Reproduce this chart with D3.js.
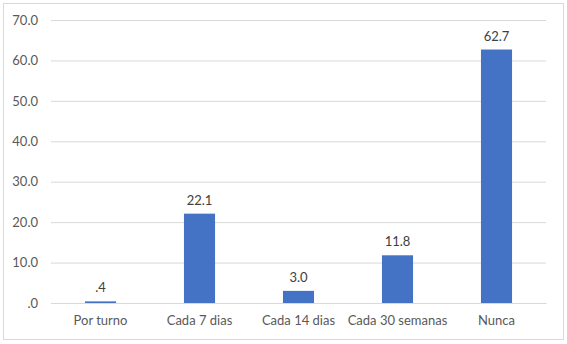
<!DOCTYPE html>
<html><head><meta charset="utf-8">
<script src="https://cdn.jsdelivr.net/npm/d3@7"></script>
<style>body{margin:0;background:#fff;} svg{display:block;}</style>
</head><body>
<svg id="c" width="567" height="344"></svg>
<script>
const categories = ["Por turno", "Cada 7 dias", "Cada 14 dias", "Cada 30 semanas", "Nunca"];
const values = [0.4, 22.1, 3.0, 11.8, 62.7];
const yTicks = [0, 10, 20, 30, 40, 50, 60, 70];

const svg = d3.select("#c");
const font = "Lato, 'Open Sans', sans-serif";
svg.append("rect").attr("x", 3.5).attr("y", 3.5).attr("width", 560).attr("height", 336)
  .attr("fill", "#fff").attr("stroke", "#d9d9d9");

const x = d3.scaleBand().domain(categories).range([51, 546]).paddingInner(0.686).paddingOuter(0.343);
const y = d3.scaleLinear().domain([0, 70]).range([303, 20]);
const fmt = v => d3.format(".1f")(v).replace(/^0\./, ".");

const yAxis = svg.append("g").attr("transform", "translate(51,0)")
  .call(d3.axisLeft(y).tickValues(yTicks).tickFormat(fmt).tickSize(-495).tickPadding(13));
yAxis.select(".domain").remove();
yAxis.selectAll(".tick line").attr("stroke", "#d9d9d9");
yAxis.selectAll(".tick text").attr("fill", "#595959").style("font-family", font).style("font-size", "13px");

const xAxis = svg.append("g").attr("transform", "translate(0,303)")
  .call(d3.axisBottom(x).tickSize(0).tickPadding(13));
xAxis.select(".domain").attr("stroke", "#d9d9d9");
xAxis.selectAll(".tick text").attr("fill", "#595959").style("font-family", font).style("font-size", "13px");

svg.selectAll("rect.bar").data(values).join("rect").attr("class", "bar")
  .attr("x", (d, i) => x(categories[i])).attr("width", x.bandwidth())
  .attr("y", d => y(d)).attr("height", d => y(0) - y(d)).attr("fill", "#4472c4");

svg.selectAll("text.val").data(values).join("text").attr("class", "val")
  .attr("x", (d, i) => x(categories[i]) + x.bandwidth() / 2).attr("y", d => y(d) - 9)
  .attr("text-anchor", "middle").attr("fill", "#404040")
  .style("font-family", font).style("font-size", "13px").text(fmt);
</script>
</body></html>
